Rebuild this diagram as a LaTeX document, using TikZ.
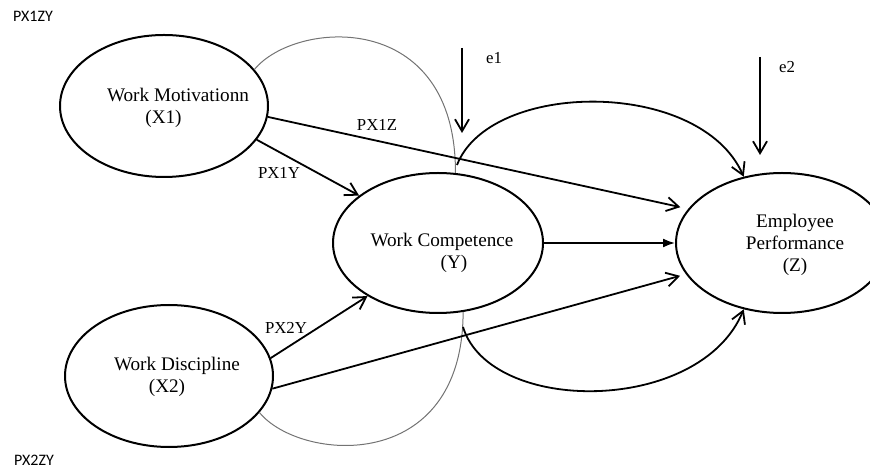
\documentclass[tikz,border=0pt]{standalone}
\usepackage{fontspec}
\setmainfont{Liberation Serif}
\newfontfamily\calibri{Carlito}
\usetikzlibrary{shapes.geometric,arrows.meta,positioning}

\begin{document}
\begin{tikzpicture}[x=0.5pt, y=-0.5pt,
	var/.style={ellipse, draw, line width=1pt, inner sep=0pt},
	txt/.style={align=center, inner sep=0pt, font=\fontsize{9.6}{11}\selectfont},
	lbl/.style={inner sep=0pt, font=\fontsize{8.4}{10}\selectfont},
	px/.style={inner sep=0pt, font=\calibri\fontsize{8}{10}\selectfont},
	link/.style={->, line width=0.9pt},
	side/.style={line width=0.5pt, black!55},
	>={Straight Barb[length=6pt,width=7pt]}]

\useasboundingbox (0,0) rectangle (870,474);

\node[var, minimum width=104pt, minimum height=71pt] (X1) at (164,106) {};
\node[var, minimum width=105pt, minimum height=70pt] (Y) at (438,243) {};
\node[var, minimum width=106pt, minimum height=70pt] (Z) at (782,243) {};
\node[var, minimum width=104pt, minimum height=71pt] (X2) at (169,376) {};

\node[txt] (X1t) at (178,107.5) {Work Motivationn\\(X1)\kern14.5pt};
\node[txt] (Yt) at (442,253) {Work Competence\\\kern12pt(Y)};
\node[txt] (Zt) at (795,245) {Employee\\Performance\\(Z)};
\node[txt] (X2t) at (177,377) {Work Discipline\\(X2)\kern10pt};

\node[px] (px1zy) at (33,16) {PX1ZY};
\node[px] (px2zy) at (34,460) {PX2ZY};
\node[lbl] (p1y) at (279,173) {PX1Y};
\node[lbl] (p1z) at (377,125) {PX1Z};
\node[lbl] (p2y) at (286,328) {PX2Y};
\node[lbl] (e1) at (494,58) {e1};
\node[lbl] (e2) at (787,67) {e2};

\coordinate (e1s) at (462,48);
\coordinate (e1e) at (462,133);
\coordinate (e2s) at (760,57);
\coordinate (e2e) at (760,155);
\coordinate (jt) at (457,165);
\coordinate (jb) at (463,327);

% indirect paths (thin)
\draw[side] (X1.22) .. controls (295,20) and (456,8) .. (Y.76);
\draw[side] (X2.-22) .. controls (300,462) and (463,475) .. (Y.-70);

% direct paths
\draw[link] (X1.-20) -- (Y.149);
\draw[link, shorten >=4pt] (X1.-6) -- (Z.160);
\draw[link] (X2.10) -- (Y.-143);
\draw[link, shorten >=3pt] (X2.-7) -- (Z.-162);
\draw[line width=0.9pt, -{Latex[length=6pt,width=4.5pt]}] (Y) -- (Z);
\draw[link] (jt) .. controls (490,80) and (700,78) .. (Z.120);
\draw[link] (jb) .. controls (490,415) and (700,415) .. (Z.240);

% errors
\draw[link] (e1s) -- (e1e);
\draw[link] (e2s) -- (e2e);
\end{tikzpicture}
\end{document}
